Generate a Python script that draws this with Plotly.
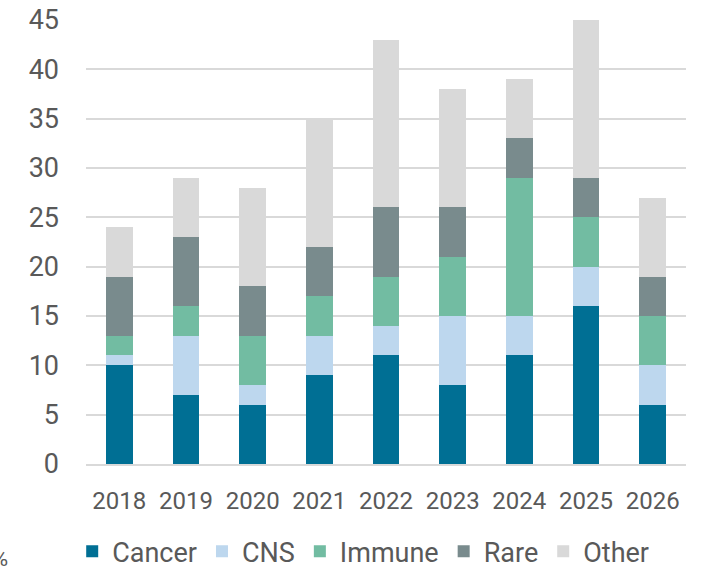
import plotly.graph_objects as go

years = ["2018", "2019", "2020", "2021", "2022", "2023", "2024", "2025", "2026"]
cancer = [10, 7, 6, 9, 11, 8, 11, 16, 6]
cns = [1, 6, 2, 4, 3, 7, 4, 4, 4]
immune = [2, 3, 5, 4, 5, 6, 14, 5, 5]
rare = [6, 7, 5, 5, 7, 5, 4, 4, 4]
other = [5, 6, 10, 13, 17, 12, 6, 16, 8]

series = [
    ("Cancer", cancer, "#006F94"),
    ("CNS", cns, "#BDD7EE"),
    ("Immune", immune, "#72BCA2"),
    ("Rare", rare, "#798B8D"),
    ("Other", other, "#D9D9D9"),
]

fig = go.Figure()
for name, vals, col in series:
    fig.add_trace(go.Bar(x=years, y=vals, name=name, marker_color=col,
                         marker_line_width=0))

txt = "#595959"
fig.update_layout(
    barmode="stack",
    bargap=0.6,
    width=701, height=570,
    margin=dict(l=86, r=15, t=20, b=106),
    paper_bgcolor="white", plot_bgcolor="white",
    font=dict(family="Roboto, Liberation Sans", color=txt, size=22),
    legend=dict(orientation="h", xref="container", yref="container",
                x=0.103, xanchor="left", y=0.032, yanchor="middle",
                font=dict(family="Roboto", size=27, color=txt),
                itemwidth=30, traceorder="normal"),
    xaxis=dict(showgrid=False, showline=True, linecolor="#D9D9D9", linewidth=1.5,
               tickfont=dict(family="Roboto", size=24, color=txt),
               ticks="", ticklabelstandoff=14, automargin=False),
    yaxis=dict(range=[0, 45], dtick=5, showgrid=True, gridcolor="#D9D9D9", gridwidth=1.5,
               zeroline=False, ticks="", ticklabelstandoff=26, automargin=False,
               tickfont=dict(family="Roboto", size=27, color=txt)),
    annotations=[dict(text="%", x=0, y=0, xref="paper", yref="paper", showarrow=False,
                      xshift=-86, yshift=-94, font=dict(size=22, color=txt),
                      xanchor="center", yanchor="middle")],
)
fig.write_html("out.html", config={"displayModeBar": False},
               post_script="document.body.style.margin='0';document.body.style.overflow='hidden';")
